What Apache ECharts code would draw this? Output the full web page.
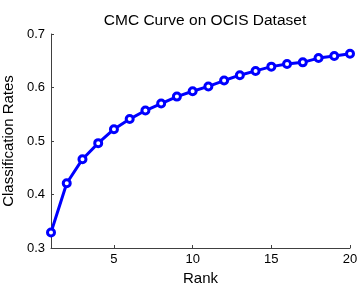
<!DOCTYPE html>
<html>
<head>
<meta charset="utf-8">
<script src="https://cdn.jsdelivr.net/npm/echarts@6/dist/echarts.min.js"></script>
<style>
  html, body { margin: 0; padding: 0; background: #fff; }
  #chart { width: 359px; height: 284px; }
</style>
</head>
<body>
<div id="chart"></div>
<script>
const ranks = [1, 2, 3, 4, 5, 6, 7, 8, 9, 10, 11, 12, 13, 14, 15, 16, 17, 18, 19, 20];
const rates = [0.329, 0.421, 0.466, 0.496, 0.522, 0.541, 0.557, 0.570, 0.583, 0.593,
  0.602, 0.613, 0.623, 0.631, 0.639, 0.644, 0.647, 0.655, 0.659, 0.663];
const xTicks = [5, 10, 15, 20];

const font = "Liberation Sans, Arial, sans-serif";
const axisColor = "#404040";

const chart = echarts.init(document.getElementById("chart"));
chart.setOption({
  animation: false,
  title: {
    text: "CMC Curve on OCIS Dataset",
    left: 200,
    textAlign: "center",
    top: 8,
    textStyle: { fontFamily: font, fontSize: 15.5, fontWeight: "normal", color: "#000" },
  },
  grid: { left: 51, right: 9, top: 34, bottom: 36, outerBoundsMode: "none", containLabel: false },
  xAxis: {
    type: "value",
    min: 1,
    max: 20,
    name: "Rank",
    nameLocation: "middle",
    nameGap: 20,
    nameTextStyle: { fontFamily: font, fontSize: 15, color: "#000" },
    axisLine: { lineStyle: { color: axisColor, width: 1 } },
    axisTick: { inside: true, length: 3, customValues: xTicks, lineStyle: { color: axisColor } },
    axisLabel: { customValues: xTicks, margin: 5, fontFamily: font, fontSize: 13, color: "#000" },
    splitLine: { show: false },
  },
  yAxis: {
    type: "value",
    min: 0.3,
    max: 0.7,
    interval: 0.1,
    name: "Classification Rates",
    nameLocation: "middle",
    nameGap: 28,
    nameTextStyle: { fontFamily: font, fontSize: 15, color: "#000" },
    axisLine: { show: true, lineStyle: { color: axisColor, width: 1 } },
    axisTick: { show: true, inside: true, length: 3, lineStyle: { color: axisColor } },
    axisLabel: {
      margin: 6,
      padding: [5, 0, 0, 0],
      fontFamily: font,
      fontSize: 13,
      color: "#000",
      formatter: (v) => v.toFixed(1),
    },
    splitLine: { show: false },
  },
  series: [
    {
      type: "line",
      data: ranks.map((r, i) => [r, rates[i]]),
      symbol: "circle",
      symbolSize: 7,
      lineStyle: { color: "#0000ff", width: 3 },
      itemStyle: { color: "#ffffff", borderColor: "#0000ff", borderWidth: 3 },
      clip: false,
    },
  ],
});
</script>
</body>
</html>
